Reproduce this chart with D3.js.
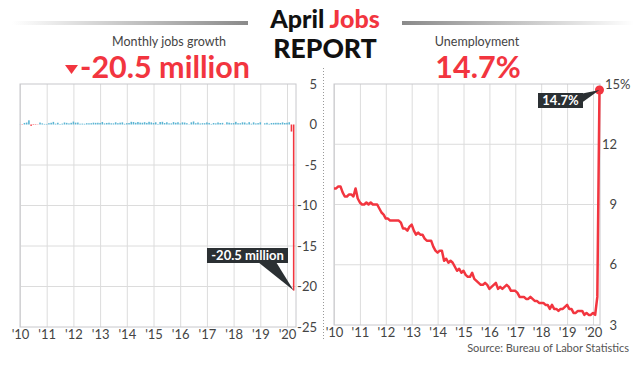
<!DOCTYPE html>
<html>
<head>
<meta charset="utf-8">
<script src="https://cdn.jsdelivr.net/npm/d3@7"></script>
<style>
  body { margin: 0; background: #fff; }
  svg { font-family: Lato, "Open Sans", sans-serif; }
</style>
</head>
<body>
<div id="chart"></div>
<script>
// monthly change in nonfarm payrolls, thousands, Jan 2010 - Apr 2020
var jobs2010 = [14, -39, 192, 239, 516, -167, -58, -51, -27, 241, 137, 71];
var jobs2011 = [70, 168, 212, 322, 102, 217, 62, 107, 246, 202, 134, 209];
var jobs2012 = [360, 226, 243, 96, 110, 88, 160, 150, 161, 225, 203, 214];
var jobs2013 = [190, 311, 135, 192, 218, 146, 140, 268, 160, 225, 264, 88];
var jobs2014 = [165, 188, 332, 310, 213, 306, 232, 218, 286, 200, 331, 260];
var jobs2015 = [190, 271, 72, 309, 331, 180, 277, 141, 138, 298, 213, 279];
var jobs2016 = [126, 265, 242, 162, 39, 270, 373, 155, 248, 124, 163, 159];
var jobs2017 = [259, 195, 70, 186, 136, 251, 182, 200, -19, 276, 223, 158];
var jobs2018 = [176, 328, 160, 159, 270, 248, 117, 287, 98, 262, 134, 173];
var jobs2019 = [269, 1, 149, 210, 85, 182, 194, 207, 208, 185, 261, 184];
var jobs2020 = [214, 275, -870, -20500];

// unemployment rate, %, Jan 2010 - Apr 2020
var rate2010 = [9.8, 9.8, 9.9, 9.9, 9.6, 9.4, 9.4, 9.5, 9.5, 9.4, 9.8, 9.3];
var rate2011 = [9.1, 9.0, 9.0, 9.1, 9.0, 9.1, 9.0, 9.0, 9.0, 8.8, 8.6, 8.5];
var rate2012 = [8.3, 8.3, 8.2, 8.2, 8.2, 8.2, 8.2, 8.1, 7.8, 7.8, 7.7, 7.9];
var rate2013 = [8.0, 7.7, 7.5, 7.6, 7.5, 7.5, 7.3, 7.2, 7.2, 7.2, 6.9, 6.7];
var rate2014 = [6.6, 6.7, 6.7, 6.2, 6.3, 6.1, 6.2, 6.1, 5.9, 5.7, 5.8, 5.6];
var rate2015 = [5.7, 5.5, 5.4, 5.4, 5.6, 5.3, 5.2, 5.1, 5.0, 5.0, 5.1, 5.0];
var rate2016 = [4.8, 4.9, 5.0, 5.1, 4.8, 4.9, 4.8, 4.9, 5.0, 4.9, 4.7, 4.7];
var rate2017 = [4.7, 4.6, 4.4, 4.4, 4.4, 4.3, 4.3, 4.4, 4.3, 4.2, 4.2, 4.1];
var rate2018 = [4.1, 4.1, 4.0, 4.0, 3.8, 4.0, 3.8, 3.8, 3.7, 3.8, 3.8, 3.9];
var rate2019 = [4.0, 3.8, 3.8, 3.6, 3.6, 3.7, 3.7, 3.7, 3.5, 3.6, 3.5, 3.5];
var rate2020 = [3.6, 3.5, 4.4, 14.7];

var years = [2010, 2011, 2012, 2013, 2014, 2015, 2016, 2017, 2018, 2019, 2020];
var jobsTicks = [5, 0, -5, -10, -15, -20, -25];
var rateTicks = [15, 12, 9, 6, 3];

var jobs = [].concat(jobs2010, jobs2011, jobs2012, jobs2013, jobs2014, jobs2015,
  jobs2016, jobs2017, jobs2018, jobs2019, jobs2020);
var rates = [].concat(rate2010, rate2011, rate2012, rate2013, rate2014, rate2015,
  rate2016, rate2017, rate2018, rate2019, rate2020);

var red = "#f2353f";
var blue = "#5ab4d3";
var textColour = "#444";
var gridColour = "#dcdcdc";

var w = 642, h = 371;
var svg = d3.select("#chart").append("svg")
  .attr("width", w)
  .attr("height", h);

// plain hyphen instead of d3's unicode minus
function num(d) { return String(d); }

// ---- header ----
var defs = svg.append("defs");
var gl = defs.append("linearGradient").attr("id", "fadeL");
gl.append("stop").attr("offset", "0%").attr("stop-color", "#fff");
gl.append("stop").attr("offset", "100%").attr("stop-color", "#8a8a8a");
var gr = defs.append("linearGradient").attr("id", "fadeR");
gr.append("stop").attr("offset", "0%").attr("stop-color", "#8a8a8a");
gr.append("stop").attr("offset", "100%").attr("stop-color", "#fff");

svg.append("rect").attr("x", 12).attr("y", 21).attr("width", 236).attr("height", 4)
  .attr("fill", "url(#fadeL)");
svg.append("rect").attr("x", 402).attr("y", 21).attr("width", 232).attr("height", 4)
  .attr("fill", "url(#fadeR)");

var title = svg.append("text")
  .attr("x", 325).attr("y", 28)
  .attr("text-anchor", "middle")
  .attr("font-size", "25px")
  .attr("font-weight", 900);
title.append("tspan").attr("fill", "#111").text("April ");
title.append("tspan").attr("fill", red).text("Jobs");

svg.append("text")
  .attr("x", 325).attr("y", 58)
  .attr("text-anchor", "middle")
  .attr("font-size", "26.5px")
  .attr("font-weight", 900)
  .attr("fill", "#111")
  .text("REPORT");

svg.append("text")
  .attr("x", 169).attr("y", 46)
  .attr("text-anchor", "middle")
  .attr("font-size", "12.5px")
  .attr("fill", textColour)
  .text("Monthly jobs growth");

svg.append("path")
  .attr("d", "M65,65 L78,65 L71.5,74 Z")
  .attr("fill", red);
svg.append("text")
  .attr("x", 80).attr("y", 78)
  .attr("font-size", "30.5px")
  .attr("font-weight", 700)
  .attr("fill", red)
  .text("-20.5 million");

svg.append("text")
  .attr("x", 477).attr("y", 46)
  .attr("text-anchor", "middle")
  .attr("font-size", "12.5px")
  .attr("fill", textColour)
  .text("Unemployment");

svg.append("text")
  .attr("x", 478).attr("y", 78)
  .attr("text-anchor", "middle")
  .attr("font-size", "30.5px")
  .attr("font-weight", 700)
  .attr("fill", red)
  .text("14.7%");

// dotted separator
svg.append("line")
  .attr("x1", 323.5).attr("x2", 323.5)
  .attr("y1", 68).attr("y2", 340)
  .attr("stroke", "#999")
  .attr("stroke-width", 1)
  .attr("stroke-dasharray", "1,2");

function monthX(i) { return 2010 + i / 12; }
function yearLabel(d) { return "'" + String(d).slice(2); }

// ---- left: jobs growth ----
var L = { left: 20, right: 296, top: 84, bottom: 327 };
var xJobs = d3.scaleLinear().domain([2010, 2020]).range([L.left, 287]);
var yJobs = d3.scaleLinear().domain([-25, 5]).range([L.bottom, L.top]);

var left = svg.append("g");

left.selectAll("line.hgrid")
  .data(jobsTicks.filter(function(d) { return d < 5 && d > -25 && d !== 0; }))
  .enter().append("line")
  .attr("x1", L.left).attr("x2", L.right)
  .attr("y1", function(d) { return yJobs(d); })
  .attr("y2", function(d) { return yJobs(d); })
  .attr("stroke", gridColour);

var xAxisL = left.append("g")
  .attr("transform", "translate(0," + L.bottom + ")")
  .call(d3.axisBottom(xJobs).tickValues(years).tickSize(-(L.bottom - L.top)).tickFormat(yearLabel));
xAxisL.select(".domain").remove();
xAxisL.selectAll("line").attr("stroke", gridColour);
xAxisL.selectAll("text").attr("font-size", "13px").attr("fill", textColour)
  .attr("font-family", "Lato");

left.append("rect")
  .attr("x", L.left).attr("y", L.top)
  .attr("width", L.right - L.left).attr("height", L.bottom - L.top)
  .attr("fill", "none").attr("stroke", "#c8c8cc");

var barW = (xJobs(2011) - xJobs(2010)) / 12 * 0.7;
left.selectAll("rect.bar")
  .data(jobs)
  .enter().append("rect")
  .attr("class", "bar")
  .attr("x", function(d, i) { return xJobs(monthX(i)) - barW / 2; })
  .attr("width", barW)
  .attr("y", function(d) { return yJobs(Math.max(0, d / 1000)); })
  .attr("height", function(d) { return Math.abs(yJobs(d / 1000) - yJobs(0)); })
  .attr("fill", function(d) { return d < 0 ? red : blue; });

var yAxisL = left.append("g")
  .attr("transform", "translate(" + L.right + ",0)")
  .call(d3.axisRight(yJobs).tickValues(jobsTicks).tickSize(0).tickFormat(num));
yAxisL.select(".domain").remove();
yAxisL.selectAll("text").attr("font-size", "13px").attr("fill", textColour)
  .attr("font-family", "Lato").attr("text-anchor", "end").attr("x", 21);

// tooltip -20.5 million
var lastJobs = jobs[jobs.length - 1];
var px = xJobs(monthX(jobs.length - 1)), py = yJobs(lastJobs / 1000);
left.append("path")
  .attr("d", "M" + 258 + ",262 L" + 276 + ",262 L" + px + "," + py + " Z")
  .attr("fill", "#2b3033");
left.append("rect")
  .attr("x", 207).attr("y", 248).attr("width", 81).attr("height", 15)
  .attr("fill", "#2b3033");
left.append("text")
  .attr("x", 247.5).attr("y", 260)
  .attr("text-anchor", "middle")
  .attr("font-size", "13px").attr("font-weight", 700)
  .attr("fill", "#fff")
  .text(num(lastJobs / 1000) + " million");

// ---- right: unemployment ----
var R = { left: 334, right: 600, top: 84, bottom: 325 };
var xRate = d3.scaleLinear().domain([2010, 2020]).range([R.left, 593]);
var yRate = d3.scaleLinear().domain([3, 15]).range([R.bottom, R.top]);

var right = svg.append("g");

right.selectAll("line.hgrid")
  .data(rateTicks.filter(function(d) { return d < 15 && d > 3; }))
  .enter().append("line")
  .attr("x1", R.left).attr("x2", R.right)
  .attr("y1", function(d) { return yRate(d); })
  .attr("y2", function(d) { return yRate(d); })
  .attr("stroke", gridColour);

var xAxisR = right.append("g")
  .attr("transform", "translate(0," + R.bottom + ")")
  .call(d3.axisBottom(xRate).tickValues(years).tickSize(-(R.bottom - R.top)).tickFormat(yearLabel));
xAxisR.select(".domain").remove();
xAxisR.selectAll("line").attr("stroke", gridColour);
xAxisR.selectAll("text").attr("font-size", "13px").attr("fill", textColour)
  .attr("font-family", "Lato");

right.append("rect")
  .attr("x", R.left).attr("y", R.top)
  .attr("width", R.right - R.left).attr("height", R.bottom - R.top)
  .attr("fill", "none").attr("stroke", "#c8c8cc");

var line = d3.line()
  .x(function(d, i) { return xRate(monthX(i)); })
  .y(function(d) { return yRate(d); });

right.append("path")
  .datum(rates)
  .attr("d", line)
  .attr("fill", "none")
  .attr("stroke", red)
  .attr("stroke-width", 2.5)
  .attr("stroke-linejoin", "round");

var lastRate = rates[rates.length - 1];
var rx = xRate(monthX(rates.length - 1)), ry = yRate(lastRate);
right.append("circle")
  .attr("cx", rx).attr("cy", ry).attr("r", 4.5)
  .attr("fill", red);

var yAxisR = right.append("g")
  .attr("transform", "translate(" + R.right + ",0)")
  .call(d3.axisRight(yRate).tickValues(rateTicks).tickSize(0).tickFormat(num));
yAxisR.select(".domain").remove();
yAxisR.selectAll("text").attr("font-size", "13px").attr("fill", textColour)
  .attr("font-family", "Lato").attr("text-anchor", "end").attr("x", 17);
yAxisR.selectAll(".tick").filter(function(d) { return d === 15; })
  .select("text").attr("text-anchor", "start").attr("x", 5).text("15%");

// tooltip 14.7%
right.append("path")
  .attr("d", "M580,94 L580,104 L" + rx + "," + ry + " Z")
  .attr("fill", "#2b3033");
right.append("rect")
  .attr("x", 538).attr("y", 93).attr("width", 45).attr("height", 15)
  .attr("fill", "#2b3033");
right.append("text")
  .attr("x", 560.5).attr("y", 105)
  .attr("text-anchor", "middle")
  .attr("font-size", "13px").attr("font-weight", 700)
  .attr("fill", "#fff")
  .text(lastRate + "%");

svg.append("text")
  .attr("x", 629).attr("y", 352)
  .attr("text-anchor", "end")
  .attr("font-size", "11px")
  .attr("fill", "#555")
  .text("Source: Bureau of Labor Statistics");
</script>
</body>
</html>
